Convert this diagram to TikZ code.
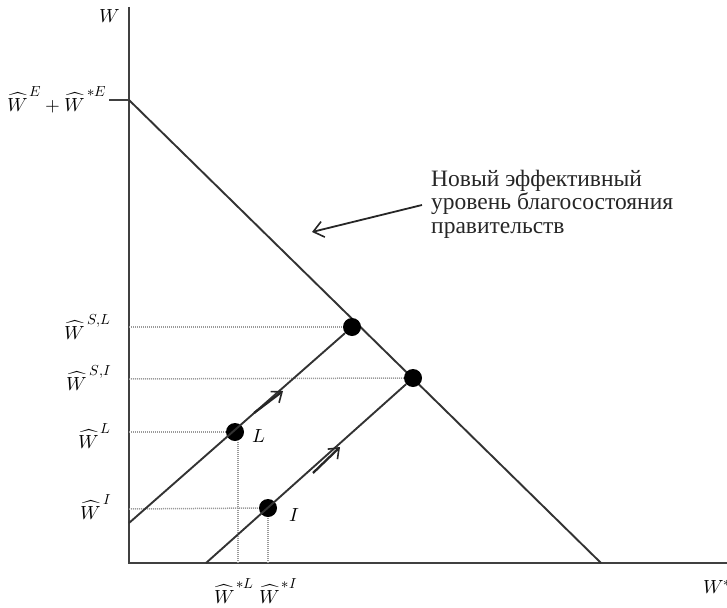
\documentclass[tikz,border=0pt]{standalone}
\usepackage{fontspec}
\usepackage{unicode-math}
\setmathfont{Latin Modern Math}
\newfontfamily\rus{Liberation Serif}
\usetikzlibrary{arrows.meta}
\newcommand{\hw}[1]{\widehat{W}\mkern2mu\raisebox{15pt}{\fontsize{14.5}{16}\selectfont$#1$}}
\begin{document}
\begin{tikzpicture}[x=1pt,y=-1pt,
  axis/.style={line width=2.6pt, draw=black!75},
  mainline/.style={line width=1.9pt, draw=black!80},
  guide/.style={line width=1.5pt, draw=black!40, dash pattern=on 1pt off 1pt},
  dotnode/.style={circle, fill=black, minimum width=18pt, minimum height=16pt, inner sep=0pt},
  lab/.style={font=\fontsize{19}{22}\selectfont, inner sep=0pt},
  flowarrow/.style={line width=2.3pt, draw=black!85, -{Straight Barb[length=9pt,width=14pt,line width=1.6pt]}},
  note/.style={font=\rus\fontsize{23.5}{23.5}\selectfont, align=left, inner sep=0pt, text=black!85}
]
\useasboundingbox (0,0) rectangle (727,607);
% axes
\coordinate (O) at (129,563);
\coordinate (Ytop) at (129,7);
\coordinate (Xend) at (730,563);
\coordinate (Ytick) at (109,100);
\coordinate (A) at (129,100);
\coordinate (B) at (601,563);
\draw[axis] (Ytop) -- (O) -- (Xend);
\draw[axis] (Ytick) -- (A);
% budget line
\draw[mainline] (A) -- (B);
% points
\node[dotnode] (SL) at (352,327) {};
\node[dotnode] (SI) at (413,378) {};
\node[dotnode] (L) at (235,432) {};
\node[dotnode] (I) at (268,508) {};
\coordinate (Lstart) at (129,523);
\coordinate (Istart) at (206,563);
% guides
\coordinate (ySL) at (129,327);
\coordinate (ySI) at (129,379);
\coordinate (yL) at (129,432);
\coordinate (yI) at (129,509);
\coordinate (xL) at (238,563);
\coordinate (xI) at (268,563);
\draw[guide] (ySL) -- (SL.west);
\draw[guide] (ySI) -- (SI.west);
\draw[guide] (yL) -- (L.west);
\draw[guide] (yI) -- (I.west);
\draw[guide] (xL) -- (xL |- L.south);
\draw[guide] (xI) -- (I.south);
% paths
\draw[mainline] (Lstart) -- (SL);
\draw[mainline] (Istart) -- (SI);
\coordinate (La1) at (254,413);
\coordinate (La2) at (283,391);
\coordinate (Ia1) at (313,473);
\coordinate (Ia2) at (340,447);
\draw[flowarrow] (La1) -- (La2);
\draw[flowarrow] (Ia1) -- (Ia2);
% labels
\node[lab, anchor=base] (lW) at (110,23) {$W$};
\node[lab, anchor=base east] (lE) at (106,111) {$\hw{E}+\hw{*E}$};
\node[lab, anchor=base east] (lSL) at (111,339) {$\hw{S{,}L}$};
\node[lab, anchor=base east] (lSI) at (111,390) {$\hw{S{,}I}$};
\node[lab, anchor=base east] (lL) at (111,448) {$\hw{L}$};
\node[lab, anchor=base east] (lI) at (111,519) {$\hw{I}$};
\node[lab, anchor=base] (lxL) at (234,603) {$\hw{*L}$};
\node[lab, anchor=base] (lxI) at (278,603) {$\hw{*I}$};
\node[lab, anchor=base west] (lX) at (703,593) {$W^{*}$};
\node[lab, anchor=base] (nL) at (259,442) {$L$};
\node[lab, anchor=base] (nI) at (294,521) {$I$};
% note
\node[note, anchor=base west] (txt) at (431,233) {Новый эффективный\\уровень благосостояния\\правительств};
\coordinate (Ntail) at (422,205);
\coordinate (Ntip) at (312,232);
\draw[line width=1.8pt, draw=black!85, -{Straight Barb[length=10pt,width=16pt,line width=1.6pt]}] (Ntail) -- (Ntip);
\end{tikzpicture}
\end{document}
